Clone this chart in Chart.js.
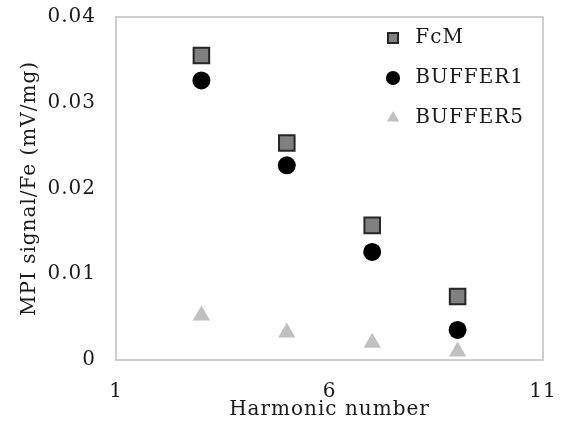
<!DOCTYPE html>
<html>
<head>
<meta charset="utf-8">
<script src="https://cdn.jsdelivr.net/npm/chart.js@4.4.1/dist/chart.umd.min.js"></script>
<style>
  html, body { margin: 0; padding: 0; background: #fff; }
  #wrap { width: 565px; height: 426px; }
</style>
</head>
<body>
<div id="wrap"><canvas id="graph"></canvas></div>
<script>
// harmonic orders measured
const harmonics = [3, 5, 7, 9];

// MPI signal per Fe (mV/mg)
const fcm = [0.0355, 0.0253, 0.0157, 0.0074];
const buffer1 = [0.0326, 0.0227, 0.0126, 0.0035];
const buffer5 = [0.0052, 0.0032, 0.0020, 0.0010];

const xTicks = [1, 6, 11];
const yTicks = [0, 0.01, 0.02, 0.03, 0.04];

const toPoints = ys => harmonics.map((x, i) => ({ x: x, y: ys[i] }));

const serif = "'DejaVu Serif', 'Liberation Serif', serif";
const textColor = '#1a1a1a';
const axisFont = { family: serif, size: 20 };

// slightly wider letters, closer to the mincho look
const spacing = {
  id: 'spacing',
  beforeUpdate(chart) { chart.ctx.letterSpacing = '1px'; },
  beforeDraw(chart) { chart.ctx.letterSpacing = '1px'; }
};

// grey frame around the plot area
const plotBox = {
  id: 'plotBox',
  beforeDatasetsDraw(chart) {
    const { ctx, chartArea: a } = chart;
    ctx.save();
    ctx.strokeStyle = '#bfbfbf';
    ctx.lineWidth = 1.5;
    ctx.strokeRect(a.left, a.top, a.right - a.left, a.bottom - a.top);
    ctx.restore();
  }
};

// push the legend into the top right corner of the plot
const legendInside = {
  id: 'legendInside',
  afterLayout(chart) {
    const lg = chart.legend, a = chart.chartArea;
    lg.left = a.right - 175;
    lg.top = a.top - 9;
  }
};

const defaultLabels = Chart.defaults.plugins.legend.labels.generateLabels;

const chart = new Chart(document.getElementById('graph'), {
  type: 'scatter',
  plugins: [spacing, plotBox, legendInside],
  data: {
    datasets: [
      {
        label: 'FcM',
        data: toPoints(fcm),
        pointStyle: 'rect',
        pointRadius: 11,
        backgroundColor: '#808080',
        borderColor: '#262626',
        borderWidth: 2
      },
      {
        label: 'BUFFER1',
        data: toPoints(buffer1),
        pointStyle: 'circle',
        pointRadius: 9,
        backgroundColor: '#000000',
        borderColor: '#000000',
        borderWidth: 0
      },
      {
        label: 'BUFFER5',
        data: toPoints(buffer5),
        pointStyle: 'triangle',
        pointRadius: 10,
        backgroundColor: '#c0c0c0',
        borderColor: '#c0c0c0',
        borderWidth: 0
      }
    ]
  },
  options: {
    responsive: true,
    maintainAspectRatio: false,
    animation: false,
    events: [],
    layout: { padding: { top: 17, right: 22, left: 0, bottom: 0 } },
    scales: {
      x: {
        type: 'linear',
        min: 1,
        max: 11,
        afterBuildTicks: s => { s.ticks = xTicks.map(v => ({ value: v })); },
        afterFit: s => { s.height = 66; s.paddingLeft = 0; s.paddingRight = 0; },
        grid: { display: false, drawTicks: false },
        border: { display: false },
        ticks: { padding: 20, font: axisFont, color: textColor },
        title: {
          display: true,
          text: 'Harmonic number',
          font: axisFont,
          color: textColor,
          padding: { top: 0, bottom: 4 }
        }
      },
      y: {
        type: 'linear',
        min: 0,
        max: 0.04,
        afterBuildTicks: s => { s.ticks = yTicks.map(v => ({ value: v })); },
        afterFit: s => { s.width = 116; s.paddingTop = 0; s.paddingBottom = 0; },
        grid: { display: false, drawTicks: false },
        border: { display: false },
        ticks: {
          padding: 20,
          font: axisFont,
          color: textColor,
          callback: v => v === 0 ? '0' : v.toFixed(2)
        },
        title: {
          display: true,
          text: 'MPI signal/Fe (mV/mg)',
          font: axisFont,
          color: textColor,
          padding: { top: 18, bottom: 0 }
        }
      }
    },
    plugins: {
      tooltip: { enabled: false },
      legend: {
        position: 'chartArea',
        align: 'start',
        labels: {
          usePointStyle: true,
          boxWidth: 10,
          boxHeight: 10,
          padding: 20,
          font: axisFont,
          color: textColor,
          // a little more room between marker and name
          generateLabels: c => defaultLabels(c).map(l => ({ ...l, text: ' ' + l.text }))
        }
      }
    }
  }
});
</script>
</body>
</html>
